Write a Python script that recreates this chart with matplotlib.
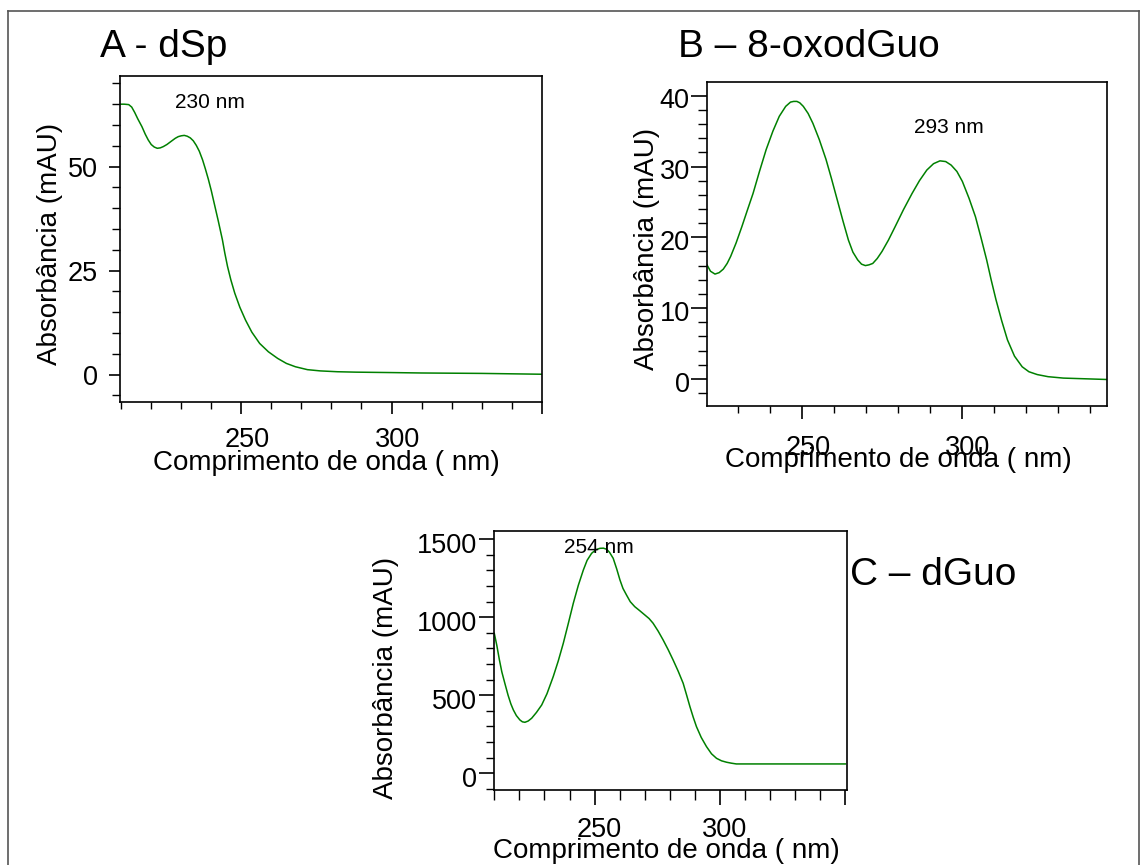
import matplotlib
matplotlib.use("Agg")
import matplotlib.pyplot as plt
from matplotlib.ticker import FixedLocator, MultipleLocator
from matplotlib.transforms import ScaledTranslation
import matplotlib.lines as mlines

# ---------------- data ----------------
wl_A = [209.6, 211.0, 212.5, 213.5, 214.5, 215.5, 216.9, 218.0, 219.0, 220.0,
        221.0, 222.0, 223.0, 224.0, 225.2, 226.5, 228.0, 229.0, 230.0, 231.0,
        232.0, 233.0, 234.0, 235.0, 236.0, 237.1, 238.0, 239.0, 240.0, 240.7,
        241.5, 242.3, 243.0, 243.7, 244.5, 245.4, 246.5, 247.8, 249.5, 251.4,
        253.5, 256.1, 259.0, 262.1, 265.0, 268.0, 272.0, 276.3, 282.0, 288.2,
        300.0, 310.0, 330.0, 350.0]
abs_A = [65.0, 65.0, 64.9, 64.3, 63.0, 61.5, 59.6, 57.8, 56.4, 55.3,
         54.7, 54.4, 54.5, 54.8, 55.3, 56.0, 56.8, 57.2, 57.4, 57.5,
         57.3, 56.9, 56.2, 55.1, 53.7, 51.6, 49.5, 47.0, 44.2, 42.0,
         39.5, 37.0, 34.7, 32.4, 29.2, 26.0, 22.8, 19.6, 16.2, 13.1,
         10.2, 7.5, 5.5, 3.9, 2.7, 1.9, 1.2, 0.9, 0.7, 0.6,
         0.5, 0.4, 0.3, 0.1]

wl_B = [220.4, 221.5, 222.9, 224.2, 225.5, 226.7, 227.8, 229.5, 231.3, 233.0,
        234.8, 236.8, 238.9, 241.0, 243.0, 245.0, 246.5, 247.5, 248.5, 249.4,
        250.5, 252.0, 253.5, 255.5, 257.6, 259.3, 261.1, 262.9, 264.6, 266.0,
        267.5, 268.7, 269.9, 271.0, 272.2, 273.6, 275.1, 277.1, 279.2, 281.8,
        284.5, 286.8, 289.1, 291.2, 293.2, 295.0, 296.7, 298.5, 300.2, 302.3,
        304.3, 306.0, 307.8, 309.2, 310.7, 312.5, 314.3, 316.5, 318.9, 321.0,
        323.6, 327.0, 331.8, 338.8, 345.6]
abs_B = [16.1, 15.2, 14.8, 15.0, 15.5, 16.3, 17.3, 19.2, 21.5, 23.8,
         26.2, 29.3, 32.4, 35.0, 37.1, 38.5, 39.1, 39.2, 39.2, 39.0,
         38.5, 37.5, 36.1, 33.8, 31.0, 28.3, 25.3, 22.3, 19.6, 17.9,
         16.8, 16.2, 16.0, 16.1, 16.3, 17.0, 18.0, 19.6, 21.5, 23.9,
         26.2, 28.0, 29.5, 30.4, 30.8, 30.7, 30.2, 29.3, 27.9, 25.5,
         22.9, 20.0, 16.8, 14.0, 11.2, 8.2, 5.5, 3.2, 1.7, 1.0,
         0.6, 0.3, 0.1, 0.0, -0.1]

wl_C = [210.0, 211.0, 212.0, 213.0, 214.2, 215.5, 216.6, 217.6, 218.8, 220.2,
        221.2, 222.2, 223.5, 224.9, 226.8, 228.9, 231.0, 233.5, 235.5, 237.5,
        239.5, 241.5, 243.5, 245.5, 247.0, 248.8, 250.5, 252.1, 253.5, 254.8,
        256.0, 257.4, 258.8, 260.1, 261.3, 262.7, 264.2, 266.0, 268.0, 270.0,
        271.7, 273.3, 275.3, 277.3, 279.3, 281.3, 283.3, 285.3, 286.7, 288.0,
        289.3, 290.6, 292.5, 294.6, 296.6, 298.6, 300.6, 302.6, 304.5, 306.5,
        315.8, 350.0]
abs_C = [897, 820, 730, 650, 577, 500, 445, 406, 370, 342,
         330, 327, 335, 353, 390, 438, 510, 620, 720, 833,
         960, 1090, 1205, 1303, 1365, 1410, 1433, 1442, 1443, 1436,
         1415, 1378, 1310, 1239, 1185, 1143, 1100, 1068, 1042, 1015,
         992, 962, 912, 855, 793, 726, 655, 577, 500, 427,
         360, 299, 230, 171, 125, 96, 80, 71, 65, 60,
         60, 60]

titles = ["A - dSp", "B \u2013 8-oxodGuo", "C \u2013 dGuo"]
peak_labels = ["230 nm", "293 nm", "254 nm"]
xlabel = "Comprimento de onda ( nm)"
ylabel = "Absorb\u00e2ncia (mAU)"

# ---------------- layout ----------------
W, H, DPI = 1144, 865, 100
plt.rcParams['font.family'] = ['Liberation Sans', 'DejaVu Sans']
fig = plt.figure(figsize=(W / DPI, H / DPI), dpi=DPI)

PT = 72.0 / DPI  # points per pixel


def rect(l, t, r, b):
    return [l / W, 1 - b / H, (r - l) / W, (b - t) / H]


def fx(x):
    return x / W


def fy(y):
    return 1 - y / H


GREEN = '#008000'
TICK_FS = 19.5
LAB_FS = 20
TITLE_FS = 28
ANN_FS = 15


def style_axes(ax, xlim, ylim, xmaj, xlabels, xminor, ymaj, yminor,
               xmaj_len, xmin_len, xpad, ymaj_len, ymin_len, ypad,
               xoff, yoff):
    ax.set_xlim(*xlim)
    ax.set_ylim(*ylim)
    ax.xaxis.set_major_locator(FixedLocator(xmaj))
    ax.set_xticklabels(xlabels)
    ax.xaxis.set_minor_locator(MultipleLocator(xminor))
    ax.yaxis.set_major_locator(FixedLocator(ymaj))
    ax.yaxis.set_minor_locator(MultipleLocator(yminor))
    for s in ax.spines.values():
        s.set_linewidth(1.2)
    ax.tick_params(axis='x', which='major', direction='out',
                   length=xmaj_len * PT, width=1.2, pad=xpad * PT,
                   labelsize=TICK_FS)
    ax.tick_params(axis='x', which='minor', direction='out',
                   length=xmin_len * PT, width=1.0)
    ax.tick_params(axis='y', which='major', direction='out',
                   length=ymaj_len * PT, width=1.2, pad=ypad * PT,
                   labelsize=TICK_FS)
    ax.tick_params(axis='y', which='minor', direction='out',
                   length=ymin_len * PT, width=1.0)
    for lab in ax.get_xticklabels():
        lab.set_transform(lab.get_transform() +
                          ScaledTranslation(xoff / DPI, 0, fig.dpi_scale_trans))
    for lab in ax.get_yticklabels():
        lab.set_transform(lab.get_transform() +
                          ScaledTranslation(0, -yoff / DPI, fig.dpi_scale_trans))


# Panel A
axA = fig.add_axes(rect(119.7, 76.3, 541.7, 401.7))
axA.plot(wl_A, abs_A, color=GREEN, lw=1.1)
style_axes(axA, (209.5, 350), (-6.5, 71.7), [250, 300, 350], ['250', '300', ''], 10,
           [0, 25, 50], 5, 12, 6.7, 13, 10.7, 7.7, 11, 6, 0)
axA.text(239.4, 64.0, peak_labels[0], fontsize=ANN_FS, ha='center', va='baseline')

# Panel B
axB = fig.add_axes(rect(707.3, 82.3, 1107.3, 405.7))
axB.plot(wl_B, abs_B, color=GREEN, lw=1.1)
style_axes(axB, (220.5, 345.5), (-3.8, 41.9), [250, 300], ['250', '300'], 10,
           [0, 10, 20, 30, 40], 2, 12.7, 6.7, 16.6, 16, 9, 1.5, 6, 2.7)
axB.text(295.9, 34.7, peak_labels[1], fontsize=ANN_FS, ha='center', va='baseline')

# Panel C
axC = fig.add_axes(rect(494.3, 531, 846.7, 790))
axC.plot(wl_C, abs_C, color=GREEN, lw=1.1)
style_axes(axC, (210, 350.5), (-107, 1553), [250, 300, 350], ['250', '300', ''], 10,
           [0, 500, 1000, 1500], 100, 15, 10, 11.7, 15, 8, 2.6, 4.7, 4)
axC.text(251.5, 1414, peak_labels[2], fontsize=ANN_FS, ha='center', va='baseline')

# Titles
fig.text(fx(100), fy(56.7), titles[0], fontsize=TITLE_FS, ha='left', va='baseline')
fig.text(fx(678), fy(56.7), titles[1], fontsize=TITLE_FS, ha='left', va='baseline')
fig.text(fx(850), fy(585), titles[2], fontsize=TITLE_FS, ha='left', va='baseline')

# Axis labels
for (cx, by) in [(326, 470), (898, 466.7), (666.7, 858.3)]:
    fig.text(fx(cx), fy(by), xlabel, fontsize=LAB_FS, ha='center', va='baseline')
for (bx, cy) in [(57, 244), (654, 249.2), (393.3, 678.3)]:
    fig.text(fx(bx), fy(cy), ylabel, fontsize=LAB_FS, ha='center', va='baseline',
             rotation=90, rotation_mode='anchor')

# Outer frame
frame_kw = dict(color='#555555', lw=1.2, transform=fig.transFigure)
fig.add_artist(mlines.Line2D([fx(8), fx(1139)], [fy(10.7), fy(10.7)], **frame_kw))
fig.add_artist(mlines.Line2D([fx(8), fx(8)], [fy(10.7), fy(865)], **frame_kw))
fig.add_artist(mlines.Line2D([fx(1139), fx(1139)], [fy(10.7), fy(865)], **frame_kw))

fig.savefig('out.png', dpi=DPI)
